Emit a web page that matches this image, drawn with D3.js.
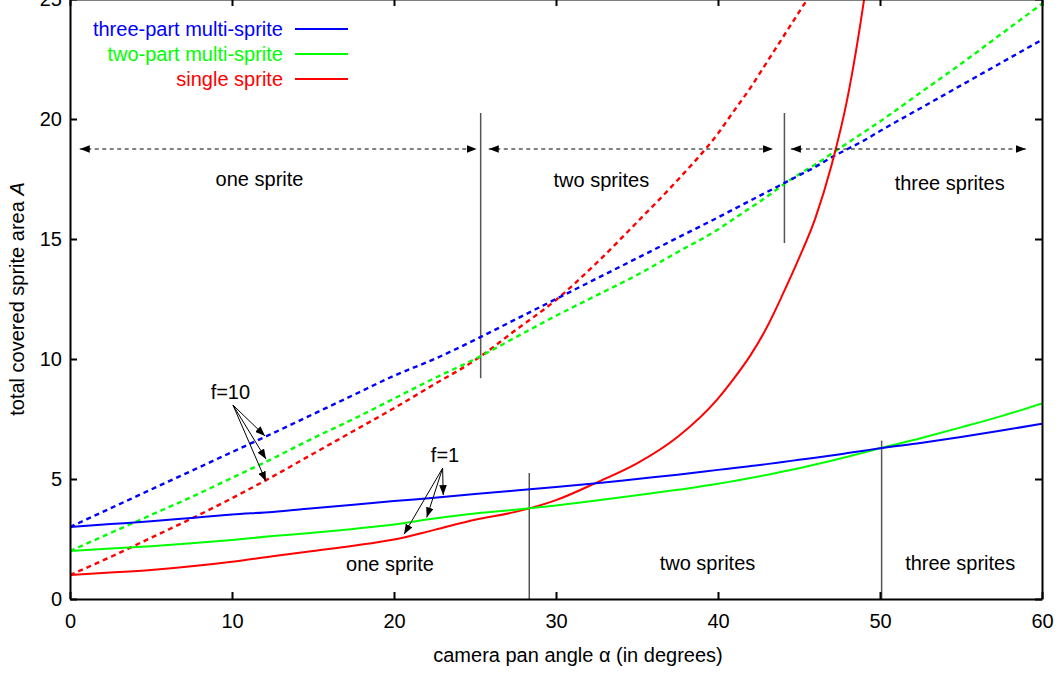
<!DOCTYPE html>
<html>
<head>
<meta charset="utf-8">
<script src="https://cdn.jsdelivr.net/npm/d3@7"></script>
<style>
  body { margin: 0; background: #fff; }
  svg { display: block; font-family: "Liberation Sans", Arial, Helvetica, sans-serif; }
</style>
</head>
<body>
<div id="chart"></div>
<script>
// camera pan angle (degrees) where each curve was sampled
var angles = [0, 2.5, 5, 7.5, 10, 12.5, 15, 17.5, 20, 22.5, 25, 27.5, 30, 32.5, 35, 37.5, 40,
    41, 42, 43, 44, 45, 46, 47, 48, 49, 50, 52.5, 55, 57.5, 60];

// f = 1 (solid)
var threePartF1 = [3.00, 3.12, 3.24, 3.38, 3.52, 3.63, 3.78, 3.93, 4.08, 4.22, 4.37, 4.52, 4.67, 4.82, 5.00, 5.18, 5.38,
    5.46, 5.54, 5.62, 5.71, 5.80, 5.89, 5.98, 6.08, 6.18, 6.28, 6.50, 6.75, 7.02, 7.30];
var twoPartF1 = [2.00, 2.10, 2.20, 2.32, 2.46, 2.62, 2.76, 2.92, 3.10, 3.35, 3.56, 3.72, 3.90, 4.10, 4.32, 4.55, 4.80,
    4.92, 5.04, 5.17, 5.31, 5.45, 5.60, 5.76, 5.93, 6.10, 6.28, 6.70, 7.15, 7.62, 8.15];
var singleF1 = [1.00, 1.10, 1.21, 1.36, 1.55, 1.78, 2.00, 2.22, 2.48, 2.88, 3.30, 3.63, 4.12, 4.85, 5.65, 6.75, 8.35,
    9.20, 10.15, 11.30, 12.70, 14.20, 15.85, 18.05, 20.90, 24.90, 30.00, null, null, null, null];

// f = 10 (dashed)
var threePartF10 = [3.00, 3.78, 4.56, 5.34, 6.12, 6.90, 7.70, 8.50, 9.30, 10.00, 10.80, 11.65, 12.50, 13.35, 14.20, 15.05, 15.90,
    16.25, 16.60, 16.95, 17.30, 17.65, 18.00, 18.40, 18.75, 19.10, 19.50, 20.45, 21.40, 22.35, 23.30];
var twoPartF10 = [2.00, 2.75, 3.50, 4.25, 5.05, 5.85, 6.70, 7.50, 8.35, 9.20, 10.00, 10.90, 11.80, 12.65, 13.50, 14.45, 15.40,
    15.85, 16.30, 16.75, 17.25, 17.70, 18.10, 18.55, 19.00, 19.45, 19.90, 21.10, 22.30, 23.55, 24.80];
var singleF10 = [1.00, 1.75, 2.55, 3.35, 4.20, 5.10, 6.05, 7.00, 7.95, 8.95, 9.95, 11.20, 12.46, 14.00, 15.70, 17.45, 19.40,
    20.35, 21.30, 22.35, 23.40, 24.45, 25.50, 26.60, null, null, null, null, null, null, null];

var legendLabels = ["three-part multi-sprite", "two-part multi-sprite", "single sprite"];
var seriesColors = ["#0000ff", "#00ff00", "#ff0000"];

var xTicks = [0, 10, 20, 30, 40, 50, 60];
var yTicks = [0, 5, 10, 15, 20, 25];

// region boundaries: [angle, from A, to A]
var boundariesF1 = [[28.35, 0, 5.25], [50.1, 0, 6.6]];
var boundariesF10 = [[25.35, 9.2, 20.25], [44.1, 14.83, 20.25]];
var spanArrowsF10 = [[0.6, 25.1], [25.85, 43.4], [44.5, 59.0]];
var spanArrowLevel = 18.75;
var regionNames = ["one sprite", "two sprites", "three sprites"];
var regionLabelsF10 = [[11.7, 17.2], [32.8, 17.15], [54.3, 17.05]];
var regionLabelsF1 = [[19.75, 1.18], [39.35, 1.2], [54.95, 1.2]];

// pointer labels: text position, arrow start, arrow tips
var pointerF10 = {text: [9.9, 8.35], from: [10.06, 8.08], tips: [[12.04, 6.79], [12.1, 5.83], [12.1, 4.9]]};
var pointerF1 = {text: [23.15, 5.7], from: [23.0, 5.45], tips: [[23.04, 4.33], [22.02, 3.4], [20.62, 2.7]]};

var width = 1060, height = 675;
var x = d3.scaleLinear().domain([0, 60]).range([70, 1042]);
var y = d3.scaleLinear().domain([0, 25]).range([599, -1]);

var svg = d3.select("#chart")
    .append("svg")
    .attr("width", width)
    .attr("height", height);

var defs = svg.append("defs");
defs.append("clipPath")
    .attr("id", "plotclip")
    .append("rect")
    .attr("x", x(0))
    .attr("y", y(25))
    .attr("width", x(60) - x(0))
    .attr("height", y(0) - y(25));

defs.append("marker")
    .attr("id", "head")
    .attr("viewBox", "0 -4 10 8")
    .attr("refX", 10)
    .attr("refY", 0)
    .attr("markerWidth", 10)
    .attr("markerHeight", 8)
    .attr("markerUnits", "userSpaceOnUse")
    .attr("orient", "auto-start-reverse")
    .append("path")
    .attr("d", "M0,-3.8L10,0L0,3.8Z")
    .attr("fill", "#000");

// curves
var line = d3.line()
    .defined(function(d) { return d[1] != null; })
    .curve(d3.curveMonotoneX)
    .x(function(d) { return x(d[0]); })
    .y(function(d) { return y(d[1]); });

function pairs(values) {
    return angles.map(function(a, i) { return [a, values[i]]; });
}

var curves = [
    {values: singleF10, color: seriesColors[2], dashed: true},
    {values: twoPartF10, color: seriesColors[1], dashed: true},
    {values: threePartF10, color: seriesColors[0], dashed: true},
    {values: singleF1, color: seriesColors[2], dashed: false},
    {values: twoPartF1, color: seriesColors[1], dashed: false},
    {values: threePartF1, color: seriesColors[0], dashed: false}
];

var plot = svg.append("g").attr("clip-path", "url(#plotclip)");

// region boundary lines
plot.selectAll(".boundary")
    .data(boundariesF1.concat(boundariesF10))
    .enter()
    .append("line")
    .attr("class", "boundary")
    .attr("x1", function(d) { return x(d[0]); })
    .attr("x2", function(d) { return x(d[0]); })
    .attr("y1", function(d) { return y(d[1]); })
    .attr("y2", function(d) { return y(d[2]); })
    .attr("stroke", "#555")
    .attr("stroke-width", 1.5);

plot.selectAll(".curve")
    .data(curves)
    .enter()
    .append("path")
    .attr("class", "curve")
    .attr("d", function(d) { return line(pairs(d.values)); })
    .attr("fill", "none")
    .attr("stroke", function(d) { return d.color; })
    .attr("stroke-width", function(d) { return d.dashed ? 2.4 : 2; })
    .attr("stroke-dasharray", function(d) { return d.dashed ? "5,4" : null; })
    .attr("stroke-linejoin", "round");

// double-headed span arrows (f=10)
svg.selectAll(".span")
    .data(spanArrowsF10)
    .enter()
    .append("line")
    .attr("class", "span")
    .attr("x1", function(d) { return x(d[0]); })
    .attr("x2", function(d) { return x(d[1]); })
    .attr("y1", y(spanArrowLevel))
    .attr("y2", y(spanArrowLevel))
    .attr("stroke", "#000")
    .attr("stroke-width", 1)
    .attr("stroke-dasharray", "4,3.5")
    .attr("marker-start", "url(#head)")
    .attr("marker-end", "url(#head)");

svg.selectAll(".regionTop")
    .data(regionLabelsF10)
    .enter()
    .append("text")
    .attr("class", "regionTop")
    .attr("x", function(d) { return x(d[0]); })
    .attr("y", function(d) { return y(d[1]); })
    .attr("text-anchor", "middle")
    .attr("font-size", 20)
    .text(function(d, i) { return regionNames[i]; });

svg.selectAll(".regionBottom")
    .data(regionLabelsF1)
    .enter()
    .append("text")
    .attr("class", "regionBottom")
    .attr("x", function(d) { return x(d[0]); })
    .attr("y", function(d) { return y(d[1]); })
    .attr("text-anchor", "middle")
    .attr("font-size", 20)
    .text(function(d, i) { return regionNames[i]; });

// f=10 / f=1 pointers
[[pointerF10, "f=10"], [pointerF1, "f=1"]].forEach(function(p) {
    var ptr = p[0];
    svg.append("text")
        .attr("x", x(ptr.text[0]))
        .attr("y", y(ptr.text[1]))
        .attr("text-anchor", "middle")
        .attr("font-size", 20)
        .text(p[1]);
    svg.selectAll(null)
        .data(ptr.tips)
        .enter()
        .append("line")
        .attr("x1", x(ptr.from[0]))
        .attr("y1", y(ptr.from[1]))
        .attr("x2", function(d) { return x(d[0]); })
        .attr("y2", function(d) { return y(d[1]); })
        .attr("stroke", "#000")
        .attr("stroke-width", 1)
        .attr("marker-end", "url(#head)");
});

// axes: inward ticks on all four sides
var bottomAxis = svg.append("g")
    .attr("transform", "translate(0," + y(0) + ")")
    .call(d3.axisBottom(x).tickValues(xTicks).tickSizeInner(-7).tickSizeOuter(0).tickPadding(15));
var topAxis = svg.append("g")
    .attr("transform", "translate(0," + y(25) + ")")
    .call(d3.axisTop(x).tickValues(xTicks).tickSizeInner(-7).tickSizeOuter(0).tickFormat(""));
var leftAxis = svg.append("g")
    .attr("transform", "translate(" + x(0) + ",0)")
    .call(d3.axisLeft(y).tickValues(yTicks).tickSizeInner(-7).tickSizeOuter(0).tickPadding(8));
var rightAxis = svg.append("g")
    .attr("transform", "translate(" + x(60) + ",0)")
    .call(d3.axisRight(y).tickValues(yTicks).tickSizeInner(-7).tickSizeOuter(0).tickFormat(""));

[bottomAxis, topAxis, leftAxis, rightAxis].forEach(function(g) {
    g.selectAll(".domain").attr("stroke", "#000").attr("stroke-width", 2);
    g.selectAll(".tick line").attr("stroke", "#000").attr("stroke-width", 2);
    g.selectAll(".tick text")
        .attr("font-family", "'Liberation Sans', Arial, Helvetica, sans-serif")
        .attr("font-size", 20)
        .attr("fill", "#000");
});

// axis titles
svg.append("text")
    .attr("x", 578)
    .attr("y", 662)
    .attr("text-anchor", "middle")
    .attr("font-size", 20)
    .text("camera pan angle \u03b1 (in degrees)");

var ylab = svg.append("text")
    .attr("transform", "translate(24," + ((y(0) + y(25)) / 2) + ") rotate(-90)")
    .attr("text-anchor", "middle")
    .attr("font-size", 20);
ylab.append("tspan").text("total covered sprite area ");
ylab.append("tspan").attr("font-style", "italic").text("A");

// legend
var legend = svg.selectAll(".legend")
    .data(legendLabels)
    .enter()
    .append("g")
    .attr("class", "legend")
    .attr("transform", function(d, i) { return "translate(0," + (29 + i * 25) + ")"; });

legend.append("text")
    .attr("x", 283)
    .attr("y", 7)
    .attr("text-anchor", "end")
    .attr("font-size", 20)
    .attr("fill", function(d, i) { return seriesColors[i]; })
    .text(function(d) { return d; });

legend.append("line")
    .attr("x1", 295)
    .attr("x2", 348)
    .attr("stroke", function(d, i) { return seriesColors[i]; })
    .attr("stroke-width", 2);
</script>
</body>
</html>
